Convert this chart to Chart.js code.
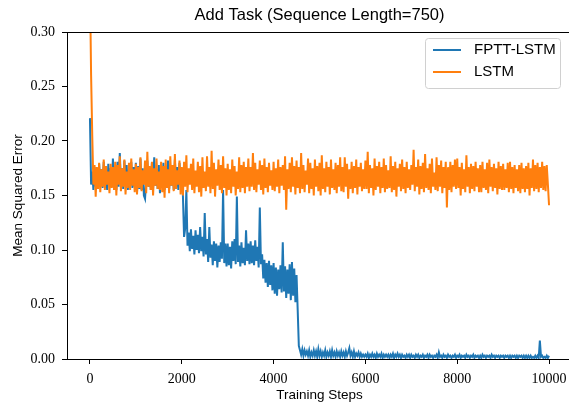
<!DOCTYPE html>
<html>
<head>
<meta charset="utf-8">
<script src="https://cdn.jsdelivr.net/npm/chart.js@4.4.1/dist/chart.umd.min.js"></script>
<style>
  html, body { margin: 0; padding: 0; background: #fff; overflow: hidden; }
  canvas { display: block; }
</style>
</head>
<body>
<canvas id="lossChart" width="575" height="402"></canvas>
<script>
// training curves, one value every 25 steps (0 .. 10000), 20 values per row
const stepSize = 25;

const fpttLstm = [
  0.221, 0.160, 0.172, 0.155, 0.176, 0.158, 0.170, 0.156, 0.179, 0.160, 0.174, 0.157, 0.181, 0.159, 0.172, 0.155, 0.179, 0.161, 0.175, 0.158, // 0
  0.184, 0.160, 0.176, 0.155, 0.181, 0.158, 0.189, 0.161, 0.175, 0.156, 0.182, 0.159, 0.178, 0.155, 0.174, 0.160, 0.181, 0.157, 0.176, 0.158, // 500
  0.180, 0.153, 0.177, 0.156, 0.184, 0.155, 0.175, 0.150, 0.147, 0.165, 0.182, 0.158, 0.176, 0.155, 0.180, 0.157, 0.185, 0.159, 0.174, 0.156, // 1000
  0.178, 0.152, 0.175, 0.158, 0.180, 0.155, 0.176, 0.157, 0.182, 0.156, 0.174, 0.159, 0.178, 0.155, 0.183, 0.157, 0.176, 0.155, 0.180, 0.160, // 1500
  0.172, 0.150, 0.112, 0.120, 0.155, 0.104, 0.116, 0.099, 0.119, 0.101, 0.113, 0.096, 0.118, 0.100, 0.114, 0.097, 0.121, 0.099, 0.112, 0.094, // 2000
  0.134, 0.096, 0.110, 0.089, 0.121, 0.093, 0.105, 0.086, 0.108, 0.090, 0.106, 0.084, 0.104, 0.089, 0.107, 0.092, 0.155, 0.088, 0.106, 0.085, // 2500
  0.106, 0.086, 0.103, 0.083, 0.108, 0.090, 0.110, 0.087, 0.149, 0.089, 0.104, 0.085, 0.107, 0.088, 0.102, 0.086, 0.118, 0.090, 0.106, 0.087, // 3000
  0.108, 0.088, 0.104, 0.086, 0.109, 0.090, 0.103, 0.084, 0.139, 0.087, 0.096, 0.074, 0.091, 0.070, 0.088, 0.066, 0.090, 0.068, 0.086, 0.063, // 3500
  0.088, 0.060, 0.084, 0.058, 0.082, 0.064, 0.086, 0.061, 0.107, 0.062, 0.085, 0.056, 0.082, 0.060, 0.087, 0.054, 0.089, 0.058, 0.083, 0.052, // 4000
  0.077, 0.045, 0.012, 0.008, 0.004, 0.009, 0.003, 0.008, 0.004, 0.007, 0.003, 0.008, 0.002, 0.006, 0.003, 0.008, 0.003, 0.007, 0.002, 0.009, // 4500
  0.003, 0.007, 0.002, 0.006, 0.003, 0.008, 0.002, 0.006, 0.003, 0.007, 0.002, 0.008, 0.003, 0.006, 0.002, 0.007, 0.003, 0.006, 0.002, 0.007, // 5000
  0.003, 0.006, 0.002, 0.007, 0.003, 0.006, 0.010, 0.003, 0.006, 0.002, 0.007, 0.002, 0.005, 0.003, 0.006, 0.002, 0.005, 0.002, 0.004, 0.002, // 5500
  0.004, 0.002, 0.005, 0.001, 0.004, 0.002, 0.005, 0.002, 0.004, 0.001, 0.005, 0.002, 0.004, 0.002, 0.005, 0.001, 0.004, 0.002, 0.004, 0.002, // 6000
  0.004, 0.001, 0.004, 0.002, 0.005, 0.001, 0.004, 0.002, 0.005, 0.002, 0.004, 0.001, 0.004, 0.002, 0.003, 0.001, 0.004, 0.002, 0.004, 0.001, // 6500
  0.004, 0.002, 0.003, 0.001, 0.004, 0.002, 0.004, 0.001, 0.003, 0.002, 0.004, 0.001, 0.003, 0.002, 0.004, 0.001, 0.004, 0.002, 0.003, 0.001, // 7000
  0.003, 0.002, 0.004, 0.001, 0.006, 0.002, 0.003, 0.001, 0.004, 0.002, 0.003, 0.001, 0.004, 0.002, 0.003, 0.001, 0.003, 0.002, 0.004, 0.001, // 7500
  0.003, 0.002, 0.004, 0.001, 0.003, 0.002, 0.003, 0.001, 0.004, 0.002, 0.003, 0.001, 0.003, 0.002, 0.004, 0.001, 0.003, 0.002, 0.003, 0.001, // 8000
  0.003, 0.001, 0.004, 0.002, 0.003, 0.001, 0.003, 0.002, 0.003, 0.001, 0.004, 0.002, 0.003, 0.001, 0.003, 0.002, 0.003, 0.001, 0.003, 0.002, // 8500
  0.003, 0.001, 0.003, 0.002, 0.003, 0.001, 0.003, 0.001, 0.003, 0.002, 0.003, 0.001, 0.003, 0.001, 0.003, 0.002, 0.003, 0.001, 0.003, 0.001, // 9000
  0.003, 0.001, 0.003, 0.001, 0.003, 0.001, 0.002, 0.001, 0.003, 0.001, 0.003, 0.001, 0.017, 0.002, 0.003, 0.001, 0.002, 0.001, 0.003, 0.001, // 9500
  0.003                                                                                                                                         // 10000
];

const lstm = [
  0.345, 0.260, 0.205, 0.160, 0.178, 0.149, 0.176, 0.156, 0.180, 0.153, 0.174, 0.158, 0.183, 0.155, 0.177, 0.160, 0.172, 0.152, 0.179, 0.157, // 0
  0.176, 0.155, 0.181, 0.150, 0.178, 0.160, 0.186, 0.154, 0.175, 0.158, 0.183, 0.151, 0.172, 0.157, 0.180, 0.155, 0.184, 0.159, 0.174, 0.153, // 500
  0.179, 0.151, 0.176, 0.157, 0.185, 0.154, 0.173, 0.160, 0.182, 0.152, 0.190, 0.158, 0.177, 0.155, 0.181, 0.150, 0.175, 0.159, 0.184, 0.156, // 1000
  0.172, 0.155, 0.181, 0.153, 0.177, 0.148, 0.183, 0.157, 0.174, 0.152, 0.186, 0.159, 0.178, 0.154, 0.188, 0.156, 0.173, 0.160, 0.182, 0.151, // 1500
  0.176, 0.150, 0.181, 0.158, 0.187, 0.153, 0.175, 0.160, 0.179, 0.155, 0.184, 0.152, 0.173, 0.158, 0.181, 0.153, 0.177, 0.149, 0.185, 0.157, // 2000
  0.172, 0.154, 0.186, 0.158, 0.176, 0.152, 0.191, 0.156, 0.180, 0.149, 0.174, 0.159, 0.183, 0.155, 0.178, 0.152, 0.186, 0.157, 0.175, 0.150, // 2500
  0.179, 0.155, 0.174, 0.152, 0.183, 0.158, 0.177, 0.150, 0.172, 0.156, 0.185, 0.153, 0.178, 0.157, 0.181, 0.152, 0.176, 0.158, 0.184, 0.154, // 3000
  0.176, 0.158, 0.189, 0.155, 0.180, 0.153, 0.174, 0.160, 0.182, 0.155, 0.178, 0.151, 0.184, 0.157, 0.176, 0.153, 0.180, 0.159, 0.173, 0.155, // 3500
  0.181, 0.154, 0.175, 0.158, 0.183, 0.152, 0.176, 0.159, 0.178, 0.155, 0.186, 0.137, 0.174, 0.156, 0.180, 0.153, 0.185, 0.158, 0.177, 0.151, // 4000
  0.182, 0.157, 0.176, 0.152, 0.189, 0.156, 0.178, 0.153, 0.173, 0.160, 0.184, 0.152, 0.180, 0.156, 0.175, 0.150, 0.183, 0.158, 0.177, 0.154, // 4500
  0.180, 0.150, 0.187, 0.156, 0.175, 0.153, 0.181, 0.158, 0.176, 0.151, 0.183, 0.157, 0.174, 0.155, 0.180, 0.152, 0.178, 0.158, 0.185, 0.154, // 5000
  0.176, 0.153, 0.185, 0.158, 0.179, 0.147, 0.174, 0.156, 0.181, 0.152, 0.177, 0.157, 0.183, 0.151, 0.176, 0.158, 0.180, 0.154, 0.174, 0.156, // 5500
  0.182, 0.156, 0.190, 0.152, 0.178, 0.157, 0.175, 0.150, 0.184, 0.155, 0.177, 0.158, 0.181, 0.152, 0.176, 0.157, 0.184, 0.153, 0.178, 0.156, // 6000
  0.173, 0.157, 0.186, 0.153, 0.177, 0.155, 0.181, 0.149, 0.175, 0.158, 0.179, 0.154, 0.183, 0.156, 0.176, 0.152, 0.181, 0.157, 0.174, 0.155, // 6500
  0.178, 0.160, 0.192, 0.154, 0.176, 0.158, 0.183, 0.151, 0.177, 0.156, 0.180, 0.153, 0.188, 0.157, 0.175, 0.155, 0.179, 0.152, 0.184, 0.158, // 7000
  0.171, 0.155, 0.185, 0.154, 0.178, 0.158, 0.182, 0.152, 0.176, 0.157, 0.181, 0.139, 0.176, 0.155, 0.181, 0.153, 0.178, 0.158, 0.183, 0.156, // 7500
  0.184, 0.157, 0.176, 0.150, 0.180, 0.156, 0.174, 0.153, 0.187, 0.158, 0.176, 0.152, 0.179, 0.156, 0.177, 0.154, 0.181, 0.158, 0.175, 0.153, // 8000
  0.178, 0.153, 0.181, 0.157, 0.174, 0.155, 0.180, 0.152, 0.183, 0.158, 0.176, 0.154, 0.179, 0.157, 0.175, 0.151, 0.181, 0.156, 0.177, 0.155, // 8500
  0.179, 0.155, 0.174, 0.157, 0.180, 0.153, 0.181, 0.156, 0.176, 0.152, 0.178, 0.157, 0.174, 0.154, 0.178, 0.152, 0.180, 0.156, 0.175, 0.153, // 9000
  0.177, 0.156, 0.180, 0.150, 0.175, 0.157, 0.183, 0.154, 0.178, 0.156, 0.180, 0.153, 0.176, 0.157, 0.181, 0.155, 0.177, 0.154, 0.178, 0.160, // 9500
  0.141                                                                                                                                         // 10000
];

const xTicks = [0, 2000, 4000, 6000, 8000, 10000];
const yTicks = [0.00, 0.05, 0.10, 0.15, 0.20, 0.25, 0.30];

const toPoints = arr => arr.map((v, i) => ({ x: i * stepSize, y: v }));

const sansFont = '"Liberation Sans", Arial, sans-serif';
const serifFont = '"Liberation Serif", "Times New Roman", serif';

// top/right spines + framed legend in the upper right corner
const framePlugin = {
  id: 'frame',
  afterDraw(chart) {
    const { ctx, chartArea: a } = chart;
    ctx.save();
    ctx.strokeStyle = '#000';
    ctx.lineWidth = 1;
    ctx.beginPath();
    ctx.moveTo(a.left, a.top + 0.5);
    ctx.lineTo(a.right, a.top + 0.5);
    ctx.lineTo(a.right - 0.5, a.bottom);
    ctx.stroke();

    // legend box
    const w = 135, h = 50;
    const x0 = a.right - 12 - w, y0 = a.top + 6;
    ctx.fillStyle = 'rgba(255,255,255,0.8)';
    ctx.strokeStyle = '#d0d0d0';
    ctx.beginPath();
    ctx.roundRect(x0 + 0.5, y0 + 0.5, w, h, 3);
    ctx.fill();
    ctx.stroke();

    ctx.font = '15px ' + sansFont;
    ctx.textBaseline = 'middle';
    chart.data.datasets.forEach((ds, i) => {
      const yy = y0 + 12 + i * 22;
      ctx.strokeStyle = ds.borderColor;
      ctx.lineWidth = 2;
      ctx.beginPath();
      ctx.moveTo(x0 + 8, yy);
      ctx.lineTo(x0 + 36, yy);
      ctx.stroke();
      ctx.fillStyle = '#000';
      ctx.fillText(ds.label, x0 + 49, yy);
    });
    ctx.restore();
  }
};

new Chart(document.getElementById('lossChart').getContext('2d'), {
  type: 'line',
  data: {
    datasets: [{
      label: 'FPTT-LSTM',
      data: toPoints(fpttLstm),
      borderColor: '#1f77b4',
      borderWidth: 2,
      pointRadius: 0,
      tension: 0,
      order: 1
    }, {
      label: 'LSTM',
      data: toPoints(lstm),
      borderColor: '#ff7f0e',
      borderWidth: 2,
      pointRadius: 0,
      tension: 0,
      order: 0
    }]
  },
  options: {
    responsive: false,
    animation: false,
    devicePixelRatio: 1,
    layout: { padding: { left: 0, right: 3, top: 0, bottom: 0 } },
    plugins: {
      legend: { display: false },
      tooltip: { enabled: false },
      title: {
        display: true,
        text: 'Add Task (Sequence Length=750)',
        fullSize: false,
        color: '#000',
        font: { family: sansFont, size: 16.5, weight: 'normal' },
        padding: { top: 6, bottom: 6.2 }
      }
    },
    scales: {
      x: {
        type: 'linear',
        min: -500,
        max: 10500,
        afterFit: s => { s.height = 43; },
        afterBuildTicks: s => { s.ticks = xTicks.map(v => ({ value: v })); },
        grid: { drawOnChartArea: false, drawTicks: true, tickLength: 5, color: '#000' },
        border: { display: true, color: '#000', width: 1 },
        ticks: {
          color: '#000',
          padding: 7,
          maxRotation: 0,
          font: { family: serifFont, size: 14 },
          callback: v => String(v)
        },
        title: {
          display: true,
          text: 'Training Steps',
          color: '#000',
          font: { family: sansFont, size: 13.5, lineHeight: 1 },
          padding: 0
        }
      },
      y: {
        min: 0,
        max: 0.30,
        afterFit: s => { s.width = 67; },
        afterBuildTicks: s => { s.ticks = yTicks.map(v => ({ value: v })); },
        grid: { drawOnChartArea: false, drawTicks: true, tickLength: 5, color: '#000' },
        border: { display: true, color: '#000', width: 1 },
        ticks: {
          color: '#000',
          padding: 7,
          font: { family: serifFont, size: 14 },
          callback: v => v.toFixed(2)
        },
        title: {
          display: true,
          text: 'Mean Squared Error',
          color: '#000',
          font: { family: sansFont, size: 13.5, lineHeight: 1.2 },
          padding: { top: 10, bottom: 0 }
        }
      }
    }
  },
  plugins: [framePlugin]
});
</script>
</body>
</html>
